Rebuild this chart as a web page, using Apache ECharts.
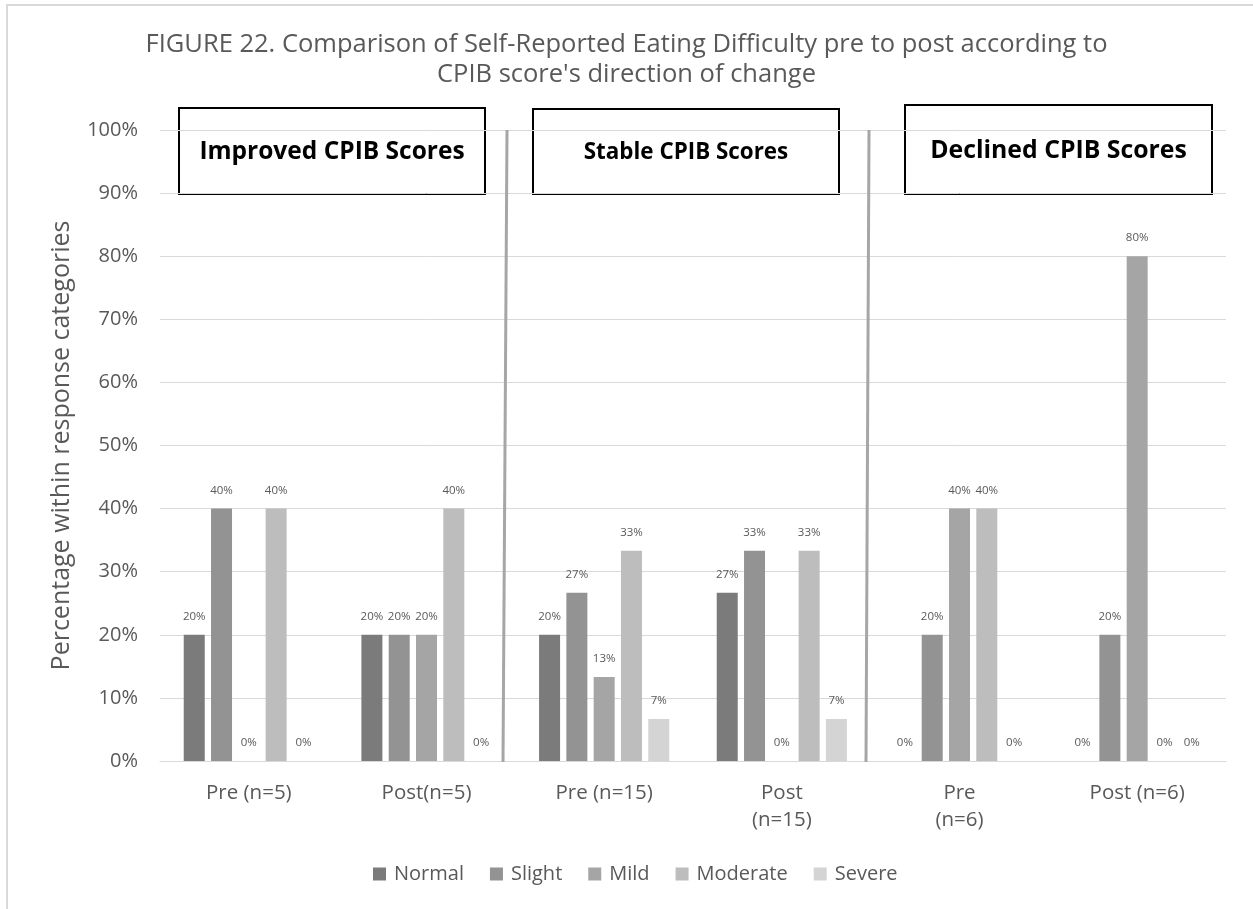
<!DOCTYPE html>
<html>
<head>
<meta charset="utf-8">
<script src="https://cdn.jsdelivr.net/npm/echarts@6/dist/echarts.min.js"></script>
<style>
  html, body { margin: 0; padding: 0; background: #ffffff; }
  #chart { width: 1253px; height: 909px; }
</style>
</head>
<body>
<div id="chart"></div>
<script>
// Time points (x categories), grouped by direction of CPIB change
const categories = ['Pre (n=5)', 'Post(n=5)', 'Pre (n=15)', 'Post\n(n=15)', 'Pre\n(n=6)', 'Post (n=6)'];

// Percentage within response category, per time point
const normal   = [20, 20, 20,    26.67, 0,  0];
const slight   = [40, 20, 26.67, 33.33, 20, 20];
const mild     = [0,  20, 13.33, 0,     40, 80];
const moderate = [40, 40, 33.33, 33.33, 40, 0];
const severe   = [0,  0,  6.67,  6.67,  0,  0];

const seriesNames = ['Normal', 'Slight', 'Mild', 'Moderate', 'Severe'];
const seriesData = [normal, slight, mild, moderate, severe];
const seriesColors = ['#7b7b7b', '#939393', '#a5a5a5', '#bdbdbd', '#d4d4d4'];

const panelTitles = ['Improved CPIB Scores', 'Stable CPIB Scores', 'Declined CPIB Scores'];

const FONT = '"Open Sans", "Noto Sans", sans-serif';
const TEXT = '#595959';

const chart = echarts.init(document.getElementById('chart'), null, { renderer: 'canvas' });

const series = seriesNames.map((name, i) => ({
  name,
  type: 'bar',
  data: seriesData[i],
  barWidth: 21,
  barGap: '30%',
  itemStyle: { color: seriesColors[i] },
  label: {
    show: true,
    position: 'top',
    distance: 12,
    fontFamily: FONT,
    fontSize: 11.5,
    color: TEXT,
    formatter: p => Math.round(p.value) + '%'
  },
  emphasis: { disabled: true }
}));

function panelBox(x, y, w, h, text, size) {
  return {
    type: 'group',
    left: x,
    top: y,
    z: 100,
    children: [
      { type: 'rect', shape: { x: 0, y: 0, width: w, height: h },
        style: { fill: '#ffffff', stroke: '#000000', lineWidth: 2 } },
      { type: 'text', x: w / 2, y: h / 2 + 1,
        style: { text, fill: '#000000', font: 'bold ' + size + 'px ' + FONT,
                 align: 'center', verticalAlign: 'middle' } }
    ]
  };
}

chart.setOption({
  backgroundColor: '#ffffff',
  animation: false,
  title: {
    text: 'FIGURE 22. Comparison of Self-Reported Eating Difficulty pre to post according to\nCPIB score\'s direction of change',
    left: 'center',
    top: 25,
    textStyle: { fontFamily: FONT, fontSize: 25.5, fontWeight: 'normal', color: TEXT, lineHeight: 30 }
  },
  legend: {
    data: seriesNames,
    top: 859,
    left: 368,
    icon: 'rect',
    itemWidth: 13,
    itemHeight: 13,
    itemGap: 26,
    textStyle: { fontFamily: FONT, fontSize: 20, color: TEXT, padding: [0, 0, 0, 3] }
  },
  grid: { left: 160, right: 27, top: 130, bottom: 148, containLabel: false },
  xAxis: {
    type: 'category',
    data: categories,
    axisTick: { show: false },
    axisLine: { lineStyle: { color: '#d9d9d9', width: 1 } },
    axisLabel: { fontFamily: FONT, fontSize: 20.5, color: TEXT, margin: 19, lineHeight: 27, interval: 0 }
  },
  yAxis: {
    type: 'value',
    min: 0,
    max: 100,
    interval: 10,
    name: 'Percentage within response categories',
    nameLocation: 'middle',
    nameGap: 86,
    nameTextStyle: { fontFamily: FONT, fontSize: 25, color: TEXT },
    axisLine: { show: false },
    axisTick: { show: false },
    axisLabel: { fontFamily: FONT, fontSize: 20, color: TEXT, margin: 22, formatter: '{value}%' },
    splitLine: { lineStyle: { color: '#d9d9d9', width: 1 } }
  },
  series,
  graphic: [
    // outer chart frame
    { type: 'rect', shape: { x: 7, y: 5, width: 1300, height: 960 },
      style: { fill: 'none', stroke: '#d9d9d9', lineWidth: 2 }, z: -1 },
    // dividers between the three panels
    { type: 'line', shape: { x1: 507, y1: 130, x2: 503, y2: 762 },
      style: { stroke: '#a6a6a6', lineWidth: 3 }, z: 50 },
    { type: 'line', shape: { x1: 869, y1: 130, x2: 866, y2: 762 },
      style: { stroke: '#a6a6a6', lineWidth: 3 }, z: 50 },
    panelBox(178, 107, 306, 86, panelTitles[0], 24.5),
    panelBox(532, 108, 306, 85, panelTitles[1], 22.4),
    panelBox(904, 104, 307, 89, panelTitles[2], 24.8)
  ]
});
</script>
</body>
</html>
